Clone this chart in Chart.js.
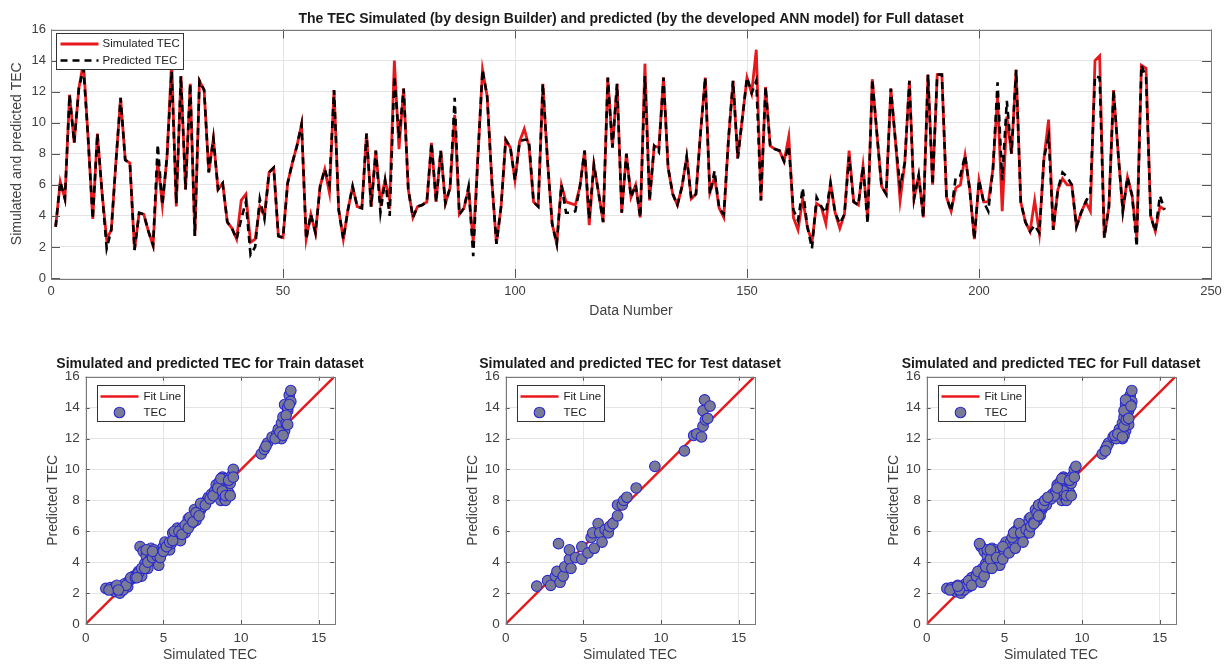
<!DOCTYPE html>
<html>
<head>
<meta charset="utf-8">
<script src="https://cdn.jsdelivr.net/npm/chart.js@4.4.0/dist/chart.umd.min.js"></script>
<style>
  html, body { margin: 0; padding: 0; background: #fff; overflow: hidden; }
  body { position: relative; width: 1227px; height: 664px; }
  canvas { position: absolute; }
</style>
</head>
<body>
<canvas id="tecLine" width="1262" height="322" style="left:0;top:0"></canvas>
<canvas id="trainScatter" width="420" height="324" style="left:0;top:340px"></canvas>
<canvas id="testScatter" width="420" height="324" style="left:420px;top:340px"></canvas>
<canvas id="fullScatter" width="420" height="324" style="left:841px;top:340px"></canvas>
<script>
// TEC: simulated (DesignBuilder) vs predicted (ANN)

const simulatedTEC = [
  3.3, 6.2, 5.1, 11.8, 8.7, 12.2, 13.9, 9.0, 3.8, 9.3,
  5.5, 2.5, 3.1, 7.5, 11.6, 7.6, 7.4, 1.8, 4.2, 4.1,
  3.0, 2.1, 7.5, 4.7, 7.8, 14.0, 4.6, 13.0, 5.7, 12.5,
  2.7, 12.7, 12.1, 6.8, 9.0, 5.7, 6.1, 3.6, 3.2, 2.5,
  5.0, 5.4, 2.3, 2.5, 4.6, 4.0, 6.8, 7.1, 2.7, 2.6,
  6.1, 7.4, 8.5, 9.9, 2.5, 4.1, 2.9, 5.9, 7.0, 5.5,
  12.1, 4.4, 2.5, 4.4, 5.9, 4.6, 4.5, 9.3, 4.6, 8.2,
  4.9, 6.3, 5.0, 14.0, 8.3, 12.2, 5.7, 3.9, 4.6, 4.7,
  4.9, 8.7, 4.9, 8.2, 4.8, 5.8, 10.5, 4.1, 4.5, 5.7,
  2.3, 7.8, 13.4, 11.7, 6.3, 2.2, 4.6, 8.9, 8.4, 6.3,
  8.8, 9.6, 8.5, 4.9, 4.6, 12.5, 7.6, 3.5, 2.2, 6.0,
  4.9, 4.8, 4.7, 5.9, 8.2, 3.4, 7.3, 5.5, 3.6, 12.9,
  8.4, 12.5, 4.2, 8.0, 5.2, 6.0, 3.9, 13.8, 5.0, 8.5,
  8.4, 12.9, 7.1, 5.4, 4.7, 5.9, 7.8, 5.1, 5.4, 9.4,
  12.9, 5.5, 6.5, 4.5, 3.9, 8.9, 12.7, 7.7, 10.3, 12.9,
  11.9, 14.7, 5.0, 12.3, 8.5, 8.3, 8.2, 7.5, 9.1, 3.9,
  3.1, 5.1, 3.3, 2.3, 4.8, 4.6, 3.5, 6.1, 4.2, 3.2,
  4.1, 8.2, 4.9, 4.7, 7.2, 3.8, 12.8, 9.3, 5.9, 5.4,
  12.2, 8.8, 5.0, 7.4, 12.7, 5.1, 6.6, 3.9, 13.1, 6.0,
  13.1, 13.1, 5.2, 4.3, 5.8, 6.0, 7.9, 5.7, 2.5, 6.3,
  4.9, 4.9, 7.0, 11.7, 4.3, 10.4, 8.0, 13.4, 4.9, 3.6,
  3.0, 5.0, 2.9, 7.7, 10.2, 3.1, 5.7, 6.4, 6.0, 6.0,
  3.3, 4.2, 4.9, 4.3, 14.0, 14.3, 2.6, 4.6, 12.1, 8.0,
  4.3, 6.5, 5.3, 2.6, 13.7, 13.5, 4.0, 3.0, 4.6, 4.4
];

const predictedTEC = [
  3.3, 6.2, 5.1, 11.8, 8.7, 12.2, 13.5, 9.0, 3.8, 9.3,
  5.5, 1.9, 3.1, 7.5, 11.6, 7.6, 7.4, 1.8, 4.2, 4.1,
  3.0, 2.1, 8.6, 4.7, 7.8, 13.3, 4.8, 13.0, 5.7, 12.5,
  2.7, 12.7, 12.1, 6.8, 9.0, 5.7, 6.1, 3.6, 3.2, 2.5,
  3.8, 4.9, 1.5, 2.0, 5.1, 3.8, 6.8, 7.1, 2.7, 2.6,
  6.1, 7.4, 8.5, 9.9, 2.5, 4.1, 2.9, 5.9, 7.0, 6.0,
  12.1, 4.4, 2.5, 4.4, 5.9, 4.6, 4.5, 9.3, 4.6, 8.2,
  4.2, 6.3, 4.0, 13.0, 9.0, 12.2, 5.7, 3.9, 4.6, 4.7,
  4.9, 8.7, 4.9, 8.2, 4.8, 5.8, 11.6, 4.1, 4.5, 5.9,
  1.4, 7.8, 13.4, 11.7, 6.3, 2.2, 4.6, 8.9, 8.4, 6.3,
  8.8, 8.9, 8.9, 4.9, 4.6, 12.5, 7.6, 3.5, 2.2, 6.0,
  4.2, 4.2, 4.3, 5.9, 8.2, 3.8, 7.3, 5.5, 3.6, 12.9,
  8.4, 12.5, 4.2, 8.0, 5.2, 6.0, 3.9, 13.0, 5.0, 8.5,
  8.1, 12.9, 7.1, 5.4, 4.7, 5.9, 7.8, 5.1, 5.4, 9.4,
  12.9, 5.4, 6.9, 4.5, 4.1, 8.9, 12.7, 7.7, 10.3, 12.9,
  11.9, 12.7, 5.0, 12.3, 8.5, 8.3, 8.2, 7.5, 8.5, 4.4,
  3.7, 5.8, 3.3, 1.9, 5.2, 4.6, 4.2, 6.1, 4.2, 3.5,
  4.1, 7.8, 4.9, 4.7, 7.2, 3.5, 12.8, 9.3, 5.9, 5.4,
  12.2, 8.8, 5.9, 7.4, 12.7, 5.1, 6.6, 3.9, 13.1, 6.0,
  13.1, 13.1, 5.2, 4.3, 6.5, 6.6, 7.9, 5.7, 2.5, 6.3,
  4.9, 4.3, 7.0, 12.6, 6.3, 11.4, 8.0, 13.4, 4.9, 3.6,
  3.0, 3.4, 2.9, 7.7, 9.1, 3.1, 5.7, 6.8, 6.5, 6.0,
  3.3, 4.2, 4.9, 5.5, 13.0, 12.9, 2.6, 4.6, 12.1, 8.0,
  4.3, 6.5, 5.3, 2.0, 13.7, 12.9, 4.0, 3.0, 5.3, 4.4
];

// data number 1..240 (x categories of the top plot)
const dataNumber = simulatedTEC.map((_, i) => i + 1);

// scatter: train set (simulated, predicted)
const trainSim = [
  1.3, 1.6, 1.9, 1.9, 2.2, 2.3, 2.5, 2.7, 2.8, 3.0, 3.1, 3.3, 3.4, 3.6, 3.5, 3.7, 3.8, 3.9, 4.0, 4.1,
  4.2, 4.4, 4.5, 4.7, 4.8, 4.9, 5.0, 5.1, 5.3, 5.4, 5.5, 5.6, 5.8, 5.9, 6.0, 6.1, 6.2, 6.3, 6.4, 6.5,
  6.6, 6.8, 6.9, 7.0, 7.1, 7.2, 7.4, 7.5, 7.6, 7.8, 7.9, 8.1, 8.3, 8.4, 8.5, 8.6, 8.7, 8.8, 8.9, 9.0,
  9.0, 9.1, 9.2, 9.3, 9.4, 9.5, 11.3, 11.5, 11.7, 12.0, 12.3, 12.4, 12.6, 12.6, 12.7, 12.8, 12.8, 12.9,
  13.0, 13.0, 13.1, 13.2, 13.2,
  1.5, 2.0, 2.4, 2.6, 2.9, 3.2, 3.4, 3.6, 3.8, 4.0, 4.3, 4.6, 4.8, 5.0, 5.2, 5.4, 5.6, 5.7, 6.0, 6.2,
  6.4, 6.6, 6.7, 6.9, 7.1, 7.3, 7.4, 7.7, 8.0, 8.2, 8.5, 8.7, 8.8, 9.0, 9.2, 9.3, 9.5, 11.6, 12.2, 12.5,
  12.7, 12.9, 13.1, 13.0, 3.3, 2.1, 3.9, 4.3
];
const trainPred = [
  2.3, 2.35, 2.4, 2.1, 2.0, 2.3, 2.6, 2.4, 2.8, 2.95, 3.1, 3.2, 3.4, 3.1, 5.0, 4.7, 3.9, 4.4, 3.6, 4.1,
  4.9, 4.8, 4.5, 3.8, 4.7, 4.6, 5.0, 5.3, 4.9, 4.8, 5.2, 5.9, 5.6, 6.2, 5.7, 5.4, 6.2, 6.0, 5.9, 6.3,
  6.8, 6.5, 6.9, 7.4, 6.7, 7.1, 7.4, 7.6, 7.8, 8.0, 8.2, 8.4, 8.6, 9.0, 8.4, 9.2, 8.0, 9.5, 8.2, 9.4,
  8.0, 8.7, 8.5, 9.1, 9.6, 10.0, 11.0, 11.3, 11.7, 12.1, 12.3, 12.6, 12.0, 13.0, 13.4, 14.2, 12.5, 13.0,
  13.8, 14.0, 14.8, 15.1, 14.4,
  2.2, 2.5, 2.2, 2.5, 3.0, 3.0, 3.3, 3.6, 3.6, 4.0, 4.3, 4.4, 4.3, 4.7, 5.0, 5.3, 5.4, 6.0, 6.0, 5.8,
  6.4, 6.2, 6.9, 6.6, 7.2, 7.0, 7.8, 7.7, 8.1, 8.3, 8.8, 9.4, 8.6, 8.3, 9.3, 8.3, 9.5, 11.5, 12.0, 12.4,
  12.2, 13.5, 14.2, 12.9, 3.0, 2.2, 4.8, 4.7
];

// scatter: test set (simulated, predicted)
const testSim = [
  2.0, 2.7, 2.9, 3.2, 3.3, 3.4, 3.5, 3.7, 3.8, 4.1, 4.1, 4.2, 4.5, 4.9, 4.9, 5.3, 5.5, 5.6, 5.7, 5.95,
  6.05, 6.2, 6.4, 6.6, 6.7, 6.9, 7.2, 7.2, 7.5, 7.6, 7.8, 8.4, 9.6, 11.5, 12.1, 12.3, 12.6, 12.7, 12.8,
  12.7, 12.85, 13.0, 13.15
];
const testPred = [
  2.45, 2.8, 2.5, 3.1, 3.4, 5.2, 2.7, 3.1, 3.7, 4.2, 4.8, 3.6, 4.3, 5.0, 4.2, 4.6, 5.6, 5.9, 4.9, 6.5,
  5.9, 5.3, 6.1, 5.9, 6.3, 6.5, 7.0, 7.7, 7.7, 8.0, 8.2, 8.8, 10.2, 11.2, 12.2, 12.3, 12.1, 13.8, 14.5,
  12.8, 13.2, 13.3, 14.1
];

// full set = train + test
const fullSim = trainSim.concat(testSim);
const fullPred = trainPred.concat(testPred);

// 1:1 fit line
const fitX = [0, 16];
const fitY = [0, 16];

const TEXT = '#404040';
const GRID = '#e4e4e4';
const FONT = "'Liberation Sans', Arial, sans-serif";
Chart.defaults.font.family = FONT;
Chart.defaults.color = TEXT;

// box around the axes, inward tick marks and a legend drawn inside the plot
const matlabAxes = {
  id: 'matlabAxes',
  afterDraw(chart, args, opts) {
    const { ctx, chartArea: a } = chart;
    ctx.save();
    // inward ticks
    ctx.strokeStyle = '#555';
    ctx.lineWidth = 1;
    const tl = opts.tickLen || 4;
    chart.scales.x.ticks.forEach(t => {
      const px = Math.round(chart.scales.x.getPixelForValue(t.value)) + 0.5;
      ctx.beginPath();
      ctx.moveTo(px, a.top); ctx.lineTo(px, a.top + tl);
      ctx.moveTo(px, a.bottom); ctx.lineTo(px, a.bottom - tl);
      ctx.stroke();
    });
    chart.scales.y.ticks.forEach(t => {
      const py = Math.round(chart.scales.y.getPixelForValue(t.value)) + 0.5;
      ctx.beginPath();
      ctx.moveTo(a.left, py); ctx.lineTo(a.left + tl, py);
      ctx.moveTo(a.right, py); ctx.lineTo(a.right - tl, py);
      ctx.stroke();
    });
    // frame
    ctx.strokeStyle = '#7a7a7a';
    ctx.strokeRect(Math.round(a.left) + 0.5, Math.round(a.top) + 0.5, Math.round(a.width), Math.round(a.height));

    // legend box
    const b = opts.box;
    if (b) {
      const x = Math.round(a.left + b.dx) + 0.5, y = Math.round(a.top + b.dy) + 0.5;
      ctx.fillStyle = '#fff';
      ctx.fillRect(x, y, b.w, b.h);
      ctx.strokeStyle = '#333';
      ctx.strokeRect(x, y, b.w, b.h);
      ctx.font = b.fontSize + 'px ' + FONT;
      ctx.textBaseline = 'middle';
      ctx.textAlign = 'left';
      b.order.forEach((dsIndex, row) => {
        const ds = chart.data.datasets[dsIndex];
        const cy = y + b.row0 + row * b.rowGap;
        if (ds.legendSymbol === 'circle') {
          ctx.beginPath();
          ctx.arc(x + b.symX0 + (b.symX1 - b.symX0) / 2, cy, ds.pointRadius, 0, Math.PI * 2);
          ctx.fillStyle = ds.backgroundColor;
          ctx.fill();
          ctx.strokeStyle = ds.borderColor;
          ctx.lineWidth = ds.borderWidth;
          ctx.stroke();
        } else {
          ctx.beginPath();
          ctx.setLineDash(ds.borderDash || []);
          ctx.strokeStyle = ds.borderColor;
          ctx.lineWidth = ds.borderWidth;
          ctx.moveTo(x + b.symX0, cy);
          ctx.lineTo(x + b.symX1, cy);
          ctx.stroke();
          ctx.setLineDash([]);
        }
        ctx.fillStyle = '#222';
        ctx.fillText(ds.label, x + b.textX, cy);
      });
    }
    ctx.restore();
  }
};

// empty right-hand axis so the title centres over the plot area
function spacerAxis(width) {
  return {
    position: 'right', display: true,
    ticks: { display: false },
    grid: { drawOnChartArea: false, drawTicks: false },
    border: { display: false },
    afterFit(s) { s.width = width; }
  };
}

// ---- top: time series ----
new Chart(document.getElementById('tecLine'), {
  type: 'line',
  data: {
    datasets: [
      {
        label: 'Simulated TEC',
        data: dataNumber.map((n, i) => ({ x: n, y: simulatedTEC[i] })),
        borderColor: '#e8191c', borderWidth: 2.8, pointRadius: 0, tension: 0,
        legendSymbol: 'line', order: 2
      },
      {
        label: 'Predicted TEC',
        data: dataNumber.map((n, i) => ({ x: n, y: predictedTEC[i] })),
        borderColor: '#000', borderWidth: 2.6, borderDash: [7, 5], pointRadius: 0, tension: 0,
        legendSymbol: 'line', order: 1
      }
    ]
  },
  options: {
    responsive: false, animation: false,
    layout: { padding: 0 },
    plugins: {
      legend: { display: false },
      tooltip: { enabled: false },
      title: {
        display: true,
        text: 'The TEC Simulated (by design Builder) and predicted (by the developed ANN model) for Full dataset',
        color: '#1a1a1a',
        font: { size: 14, weight: 'bold' },
        padding: { top: 10.6, bottom: 2.1 }
      },
      matlabAxes: {
        tickLen: 9,
        box: { dx: 5, dy: 3.5, w: 127, h: 36, row0: 10.5, rowGap: 16.5, symX0: 4, symX1: 42, textX: 46, fontSize: 11.5, order: [0, 1] }
      }
    },
    scales: {
      x: {
        type: 'linear', min: 0, max: 250,
        ticks: { stepSize: 50, font: { size: 13 }, padding: 6, color: TEXT },
        grid: { color: GRID, drawTicks: false },
        border: { display: false },
        title: { display: true, text: 'Data Number', font: { size: 14 }, color: TEXT, padding: { top: 0, bottom: 2.6 } },
        afterFit(s) { s.height = 44; }
      },
      y: {
        min: 0, max: 16,
        ticks: { stepSize: 2, font: { size: 13 }, padding: 5, color: TEXT },
        grid: { color: GRID, drawTicks: false },
        border: { display: false },
        title: { display: true, text: 'Simulated and predicted TEC', font: { size: 14 }, color: TEXT, padding: { top: 8.6, bottom: 0 } },
        afterFit(s) { s.width = 51; }
      },
      yRight: spacerAxis(51)
    }
  },
  plugins: [matlabAxes]
});

// ---- bottom: scatter panels ----
function scatterPanel(canvasId, titleText, xs, ys) {
  return new Chart(document.getElementById(canvasId), {
    type: 'scatter',
    data: {
      datasets: [
        {
          type: 'line', label: 'Fit Line',
          data: fitX.map((v, i) => ({ x: v, y: fitY[i] })),
          borderColor: '#e8191c', borderWidth: 2.4, pointRadius: 0,
          legendSymbol: 'line', order: 2
        },
        {
          label: 'TEC',
          data: xs.map((v, i) => ({ x: v, y: ys[i] })),
          pointRadius: 5.3, backgroundColor: '#797b96', borderColor: '#2a2ad0', borderWidth: 1.1,
          legendSymbol: 'circle', order: 1
        }
      ]
    },
    options: {
      responsive: false, animation: false,
      layout: { padding: 0 },
      plugins: {
        legend: { display: false },
        tooltip: { enabled: false },
        title: {
          display: true, text: titleText, color: '#1a1a1a',
          font: { size: 14, weight: 'bold' },
          padding: { top: 16.1, bottom: 3.8 }
        },
        matlabAxes: {
          tickLen: 4,
          box: { dx: 11.3, dy: 8.5, w: 87, h: 36, row0: 11, rowGap: 16, symX0: 3, symX1: 41, textX: 46, fontSize: 11.5, order: [0, 1] }
        }
      },
      scales: {
        x: {
          type: 'linear', min: 0, max: 16,
          ticks: { stepSize: 5, includeBounds: false, font: { size: 13.5 }, padding: 6, color: TEXT },
          grid: { color: GRID, drawTicks: false },
          border: { display: false },
          title: { display: true, text: 'Simulated TEC', font: { size: 14 }, color: TEXT, padding: { top: 0, bottom: 0 } },
          afterFit(s) { s.height = 40; }
        },
        y: {
          min: 0, max: 16,
          ticks: { stepSize: 2, font: { size: 13.5 }, padding: 6, color: TEXT },
          grid: { color: GRID, drawTicks: false },
          border: { display: false },
          title: { display: true, text: 'Predicted TEC', font: { size: 14 }, color: TEXT, padding: { top: 44.6, bottom: 0 } },
          afterFit(s) { s.width = 85.7; }
        },
        yRight: spacerAxis(85.7)
      }
    },
    plugins: [matlabAxes]
  });
}

scatterPanel('trainScatter', 'Simulated and predicted TEC for Train dataset', trainSim, trainPred);
scatterPanel('testScatter', 'Simulated and predicted TEC for Test dataset', testSim, testPred);
scatterPanel('fullScatter', 'Simulated and predicted TEC for Full dataset', fullSim, fullPred);
</script>
</body>
</html>
